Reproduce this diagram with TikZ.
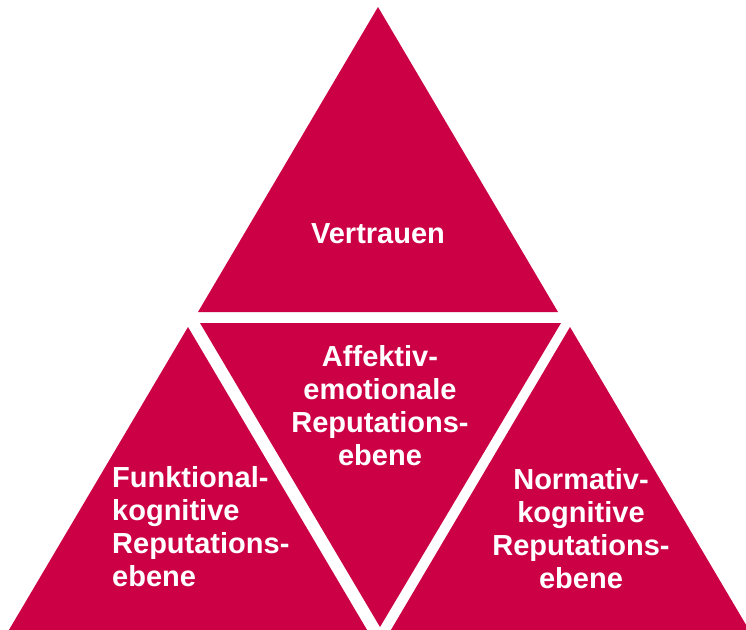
\documentclass[tikz,border=0pt]{standalone}
\usepackage{fontspec}
\setmainfont{Liberation Sans}
\definecolor{ebenerot}{RGB}{204,0,68}
\begin{document}
\begin{tikzpicture}[x=1pt,y=-1pt,line join=miter,
 font=\bfseries\fontsize{29}{33}\selectfont,
 feld/.style={fill=ebenerot},
 beschriftung/.style={text=white,inner sep=0pt,align=center}]
 \useasboundingbox (0,0) rectangle (746,629);
 \clip (0,0) rectangle (746,629);
 % Dreiecke: oben, Mitte (kopfstehend), links, rechts
 \foreach \p/\q/\r in {{(378,7)}/{(198,312)}/{(558,312)},
   {(200,323)}/{(561,323)}/{(380,627)},
   {(188,327)}/{(3,640)}/{(373,640)},
   {(570,327)}/{(385,640)}/{(755,640)}}
  \fill[feld] \p--\q--\r--cycle;
 \node[beschriftung,anchor=base] (vertrauen) at (378,243) {Vertrauen};
 \node[beschriftung] (affektiv) at (380,406) {Affektiv-\\emotionale\\Reputations-\\ebene};
 \node[beschriftung,align=left,anchor=west] (funktional) at (112,527) {Funktional-\\kognitive\\Reputations-\\ebene};
 \node[beschriftung] (normativ) at (581,529) {Normativ-\\kognitive\\Reputations-\\ebene};
\end{tikzpicture}
\end{document}
